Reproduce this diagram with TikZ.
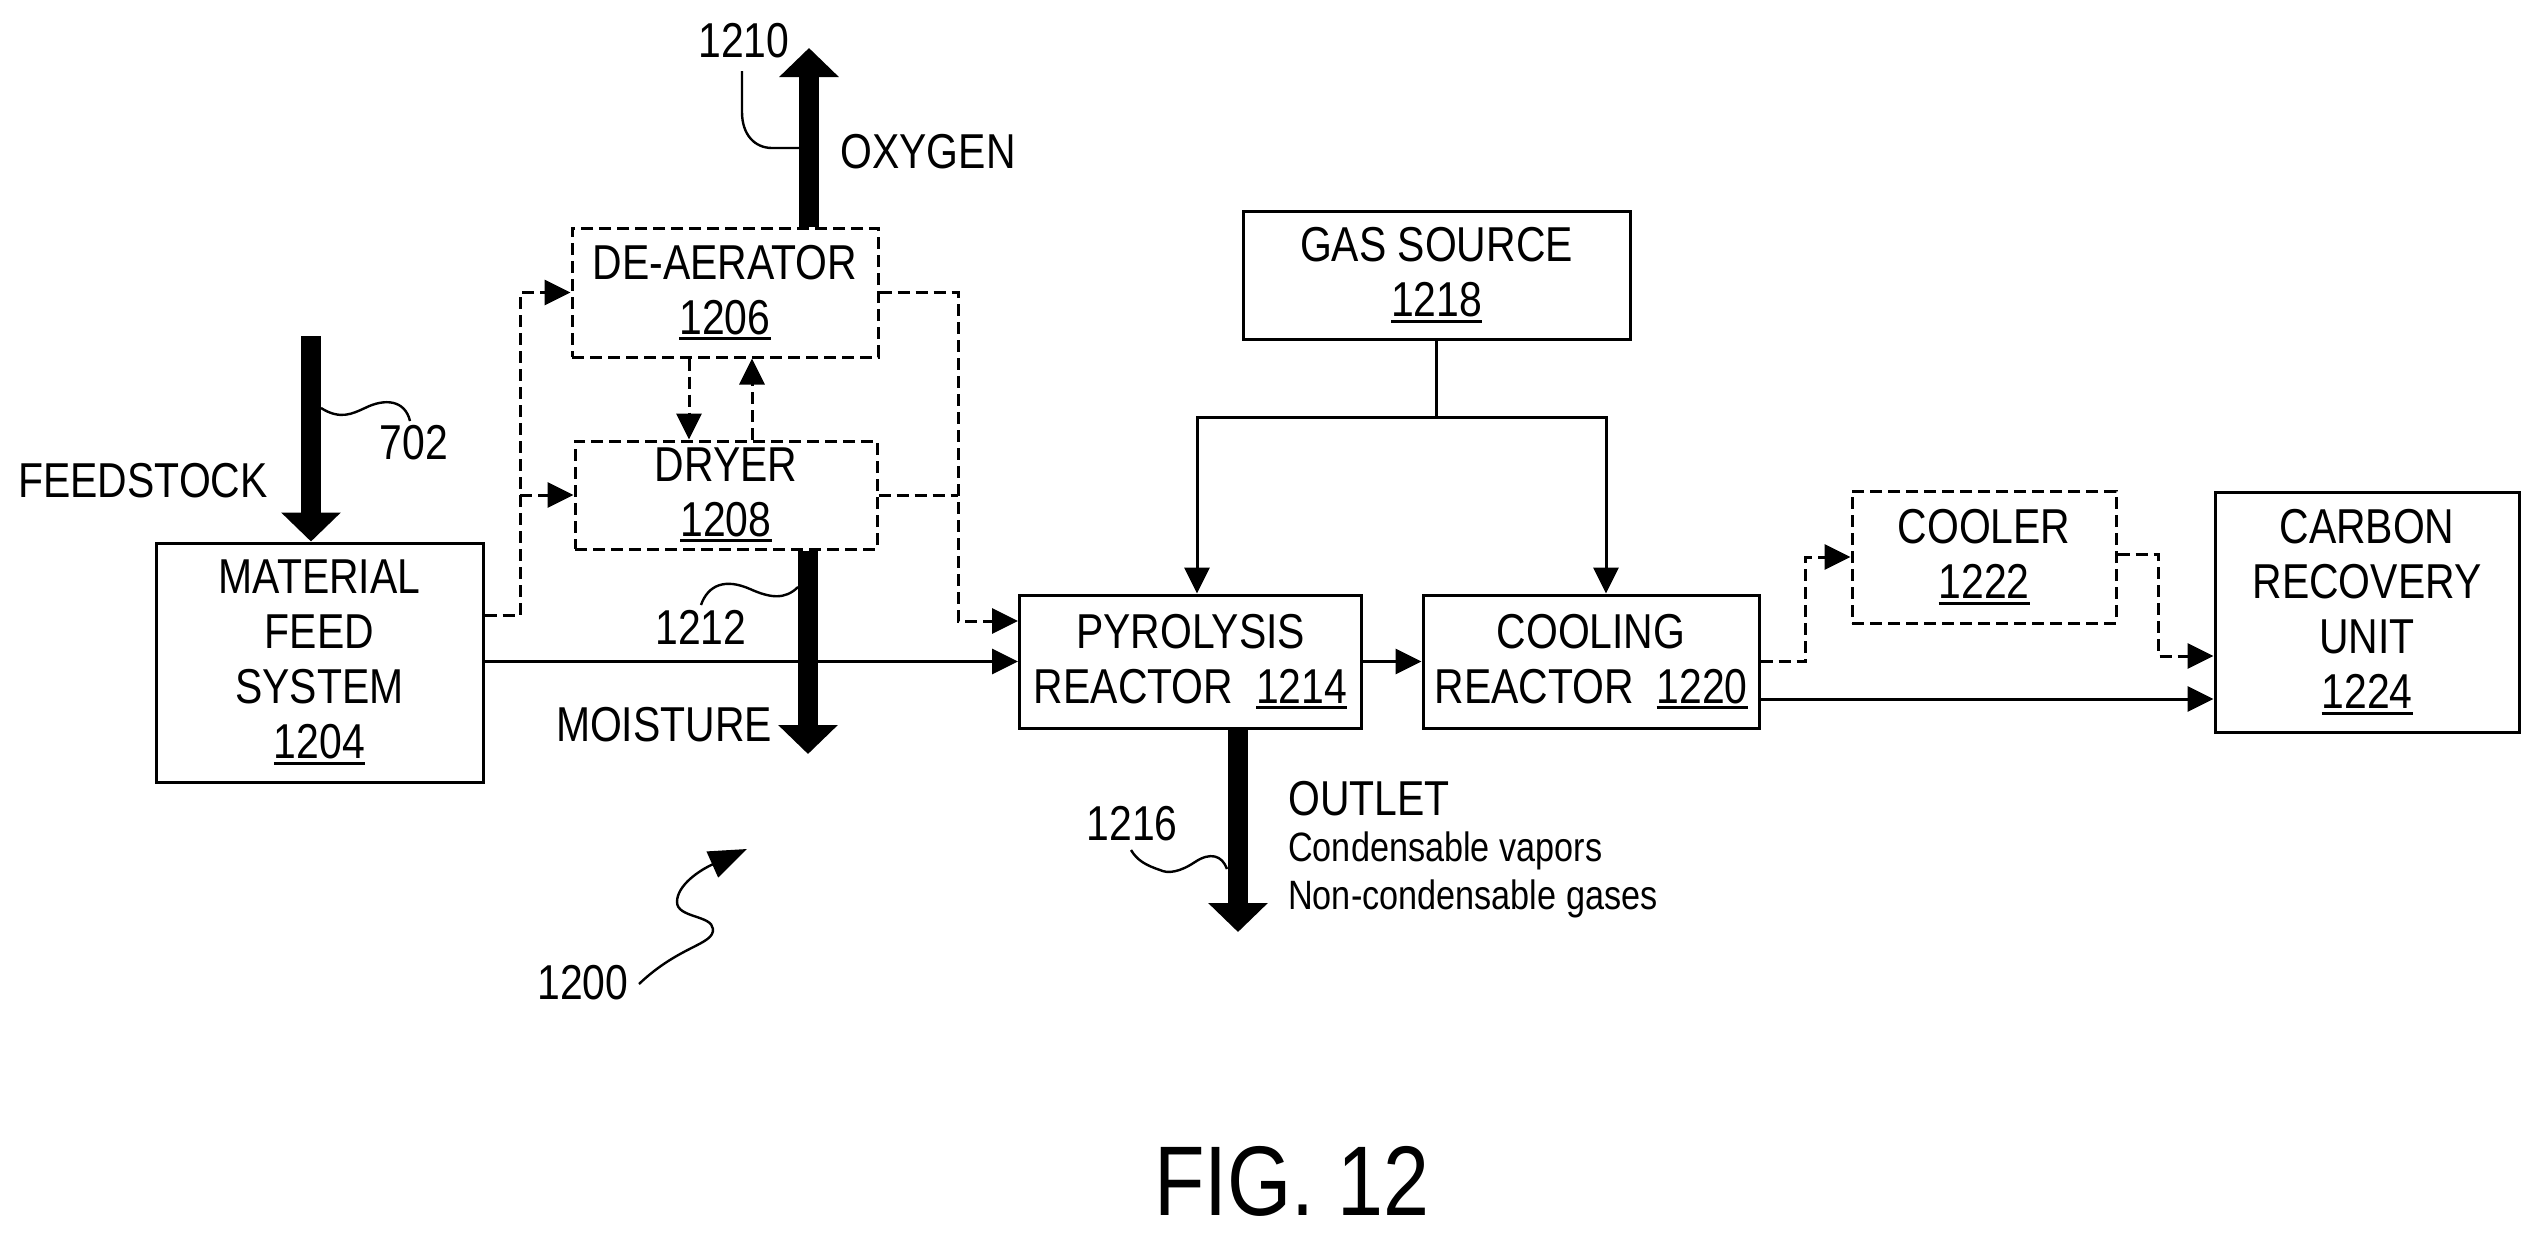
\documentclass[tikz,border=0pt]{standalone}
\usepackage{fontspec}
\setmainfont[FakeStretch=0.835]{Liberation Sans}
\usetikzlibrary{arrows.meta}
\newcommand{\labelfont}{\fontsize{49}{55}\selectfont}
\newcommand{\smallfont}{\fontsize{41}{48}\selectfont}
\newcommand{\refnum}[1]{\sbox0{#1}\rlap{\rule[-6pt]{\wd0}{3pt}}\usebox0}
\tikzset{
  box/.style={rectangle, draw=black, line width=3pt, align=center, inner sep=0pt, font=\labelfont},
  dashbox/.style={box, dash pattern=on 12pt off 6pt},
  tag/.style={inner sep=0pt, font=\labelfont},
  flow/.style={line width=3pt, -{Triangle[length=26pt,width=25pt]}},
  dashflow/.style={flow, dash pattern=on 12pt off 6pt},
  dashline/.style={line width=3pt, dash pattern=on 12pt off 6pt},
  bigflow/.style={line width=20pt, -{Triangle[length=29pt,width=58pt]}},
  lead/.style={line width=2.4pt}
}
\begin{document}
\begin{tikzpicture}[x=1pt, y=-1pt]
        \useasboundingbox (0,0) rectangle (2541,1242);
        % Boxes
        \node[box, minimum width=327pt, minimum height=239pt] (feed) at (319.5,662.5) {MATERIAL\\FEED\\SYSTEM\\\refnum{1204}};
        \node[dashbox, minimum width=306pt, minimum height=129pt] (deaer) at (725,292.5) {DE-AERATOR\\\refnum{1206}};
        \node[dashbox, minimum width=302pt, minimum height=108pt] (dryer) at (726,495) {DRYER\\\refnum{1208}};
        \node[box, minimum width=387pt, minimum height=128pt] (gas) at (1436.5,275) {GAS SOURCE\\\refnum{1218}};
        \node[box, minimum width=342pt, minimum height=133pt] (pyro) at (1190.5,661.5) {PYROLYSIS\\REACTOR\ \ \refnum{1214}};
        \node[box, minimum width=336pt, minimum height=133pt] (cool) at (1591,661.5) {COOLING\\REACTOR\ \ \refnum{1220}};
        \node[dashbox, minimum width=264pt, minimum height=132pt] (cooler) at (1984,557) {COOLER\\\refnum{1222}};
        \node[box, minimum width=304pt, minimum height=240pt] (carbon) at (2367,612) {CARBON\\RECOVERY\\UNIT\\\refnum{1224}};

        % Free ends and bends
        \coordinate (oxytip) at (809,48);
        \coordinate (feedtop) at (311,336);
        \coordinate (moisttip) at (808,754);
        \coordinate (outtip) at (1238,932);
        \coordinate (feedbus) at (520,615);
        \coordinate (drybus) at (958,621);
        \coordinate (downx) at (689,400);
        \coordinate (upx) at (752,400);
        \coordinate (gasjoin) at (1436.5,417);
        \coordinate (recv) at (2000,699);

        % Thick streams
        \draw[bigflow] (deaer.north -| oxytip) -- (oxytip);
        \draw[bigflow] (feedtop) -- (feedtop |- feed.north);
        \draw[bigflow] (dryer.south -| moisttip) -- (moisttip);
        \draw[bigflow] (pyro.south -| outtip) -- (outtip);

        % Solid connections
        \draw[flow] (feed.east |- pyro.west) -- (pyro.west);
        \draw[flow] (pyro) -- (cool);
        \draw[lead, line width=3pt] (gas.south) -- (gasjoin);
        \draw[flow] (gasjoin) -| ([xshift=6.5pt]pyro.north);
        \draw[flow] (gasjoin) -| ([xshift=15pt]cool.north);
        \draw[flow] (cool.east |- recv) -- (carbon.west |- recv);

        % Dashed connections
        \draw[dashflow] (feed.east |- feedbus) -- (feedbus) |- (deaer.west);
        \draw[dashflow] (feedbus |- dryer.west) -- (dryer.west);
        \draw[dashflow] (deaer.east) -| (drybus) -- (pyro.west |- drybus);
        \draw[dashline] (dryer.east) -- (drybus |- dryer.east);
        \draw[dashflow] (deaer.south -| downx) -- (dryer.north -| downx);
        \draw[dashflow] (dryer.north -| upx) -- (deaer.south -| upx);
        \draw[dashflow] (cool.east) -- ++(45,0) |- (cooler.west);
        \draw[dashflow] ([yshift=3pt]cooler.east) -- ++(41,0) |- ([yshift=-44pt]carbon.west);

        % Labels
        \node[tag] (t1210) at (744,41) {1210};
        \node[tag] (oxygen) at (928,152) {OXYGEN};
        \node[tag] (t702) at (414,443) {702};
        \node[tag] (feedstock) at (143,481) {FEEDSTOCK};
        \node[tag] (t1212) at (701,627) {1212};
        \node[tag] (moisture) at (664,725) {MOISTURE};
        \node[tag] (t1216) at (1132,824) {1216};
        \node[tag, anchor=west] (outlet) at (1288,799) {OUTLET};
        \node[tag, anchor=west, font=\smallfont] (vapors) at (1288,851) {Condensable vapors};
        \node[tag, anchor=west, font=\smallfont] (gases) at (1288,899) {Non-condensable gases};
        \node[tag] (t1200) at (583,983) {1200};
        \node[tag, font=\fontsize{99}{110}\selectfont] (fig) at (1292,1181) {FIG. 12};

        % Lead lines
        \coordinate (l1210) at (742,71);
        \coordinate (l702) at (410,421);
        \coordinate (l1212) at (701,605);
        \coordinate (l1216) at (1131,850);
        \coordinate (l1200) at (639,984);
        \coordinate (tip1200) at (747,849);
        \draw[lead] (l1210) -- (742,112) .. controls (742,135) and (755,148) .. (772,148) -- (800,148);
        \draw[lead] (321,408) .. controls (340,420) and (352,414) .. (365,408) .. controls (385,398) and (405,400) .. (l702);
        \draw[lead] (798,587) .. controls (785,600) and (770,598) .. (750,589) .. controls (725,578) and (708,585) .. (l1212);
        \draw[lead] (1227,869) .. controls (1222,855) and (1210,852) .. (1195,862) .. controls (1180,872) and (1168,874) .. (1160,870) .. controls (1145,865) and (1137,860) .. (l1216);
        \draw[lead, -{Triangle[length=38pt,width=28pt]}] (l1200) .. controls (680,945) and (714,945) .. (713,929) .. controls (712,915) and (677,918) .. (677,902) .. controls (677,885) and (700,870) .. (tip1200);

    \end{tikzpicture}
\end{document}
